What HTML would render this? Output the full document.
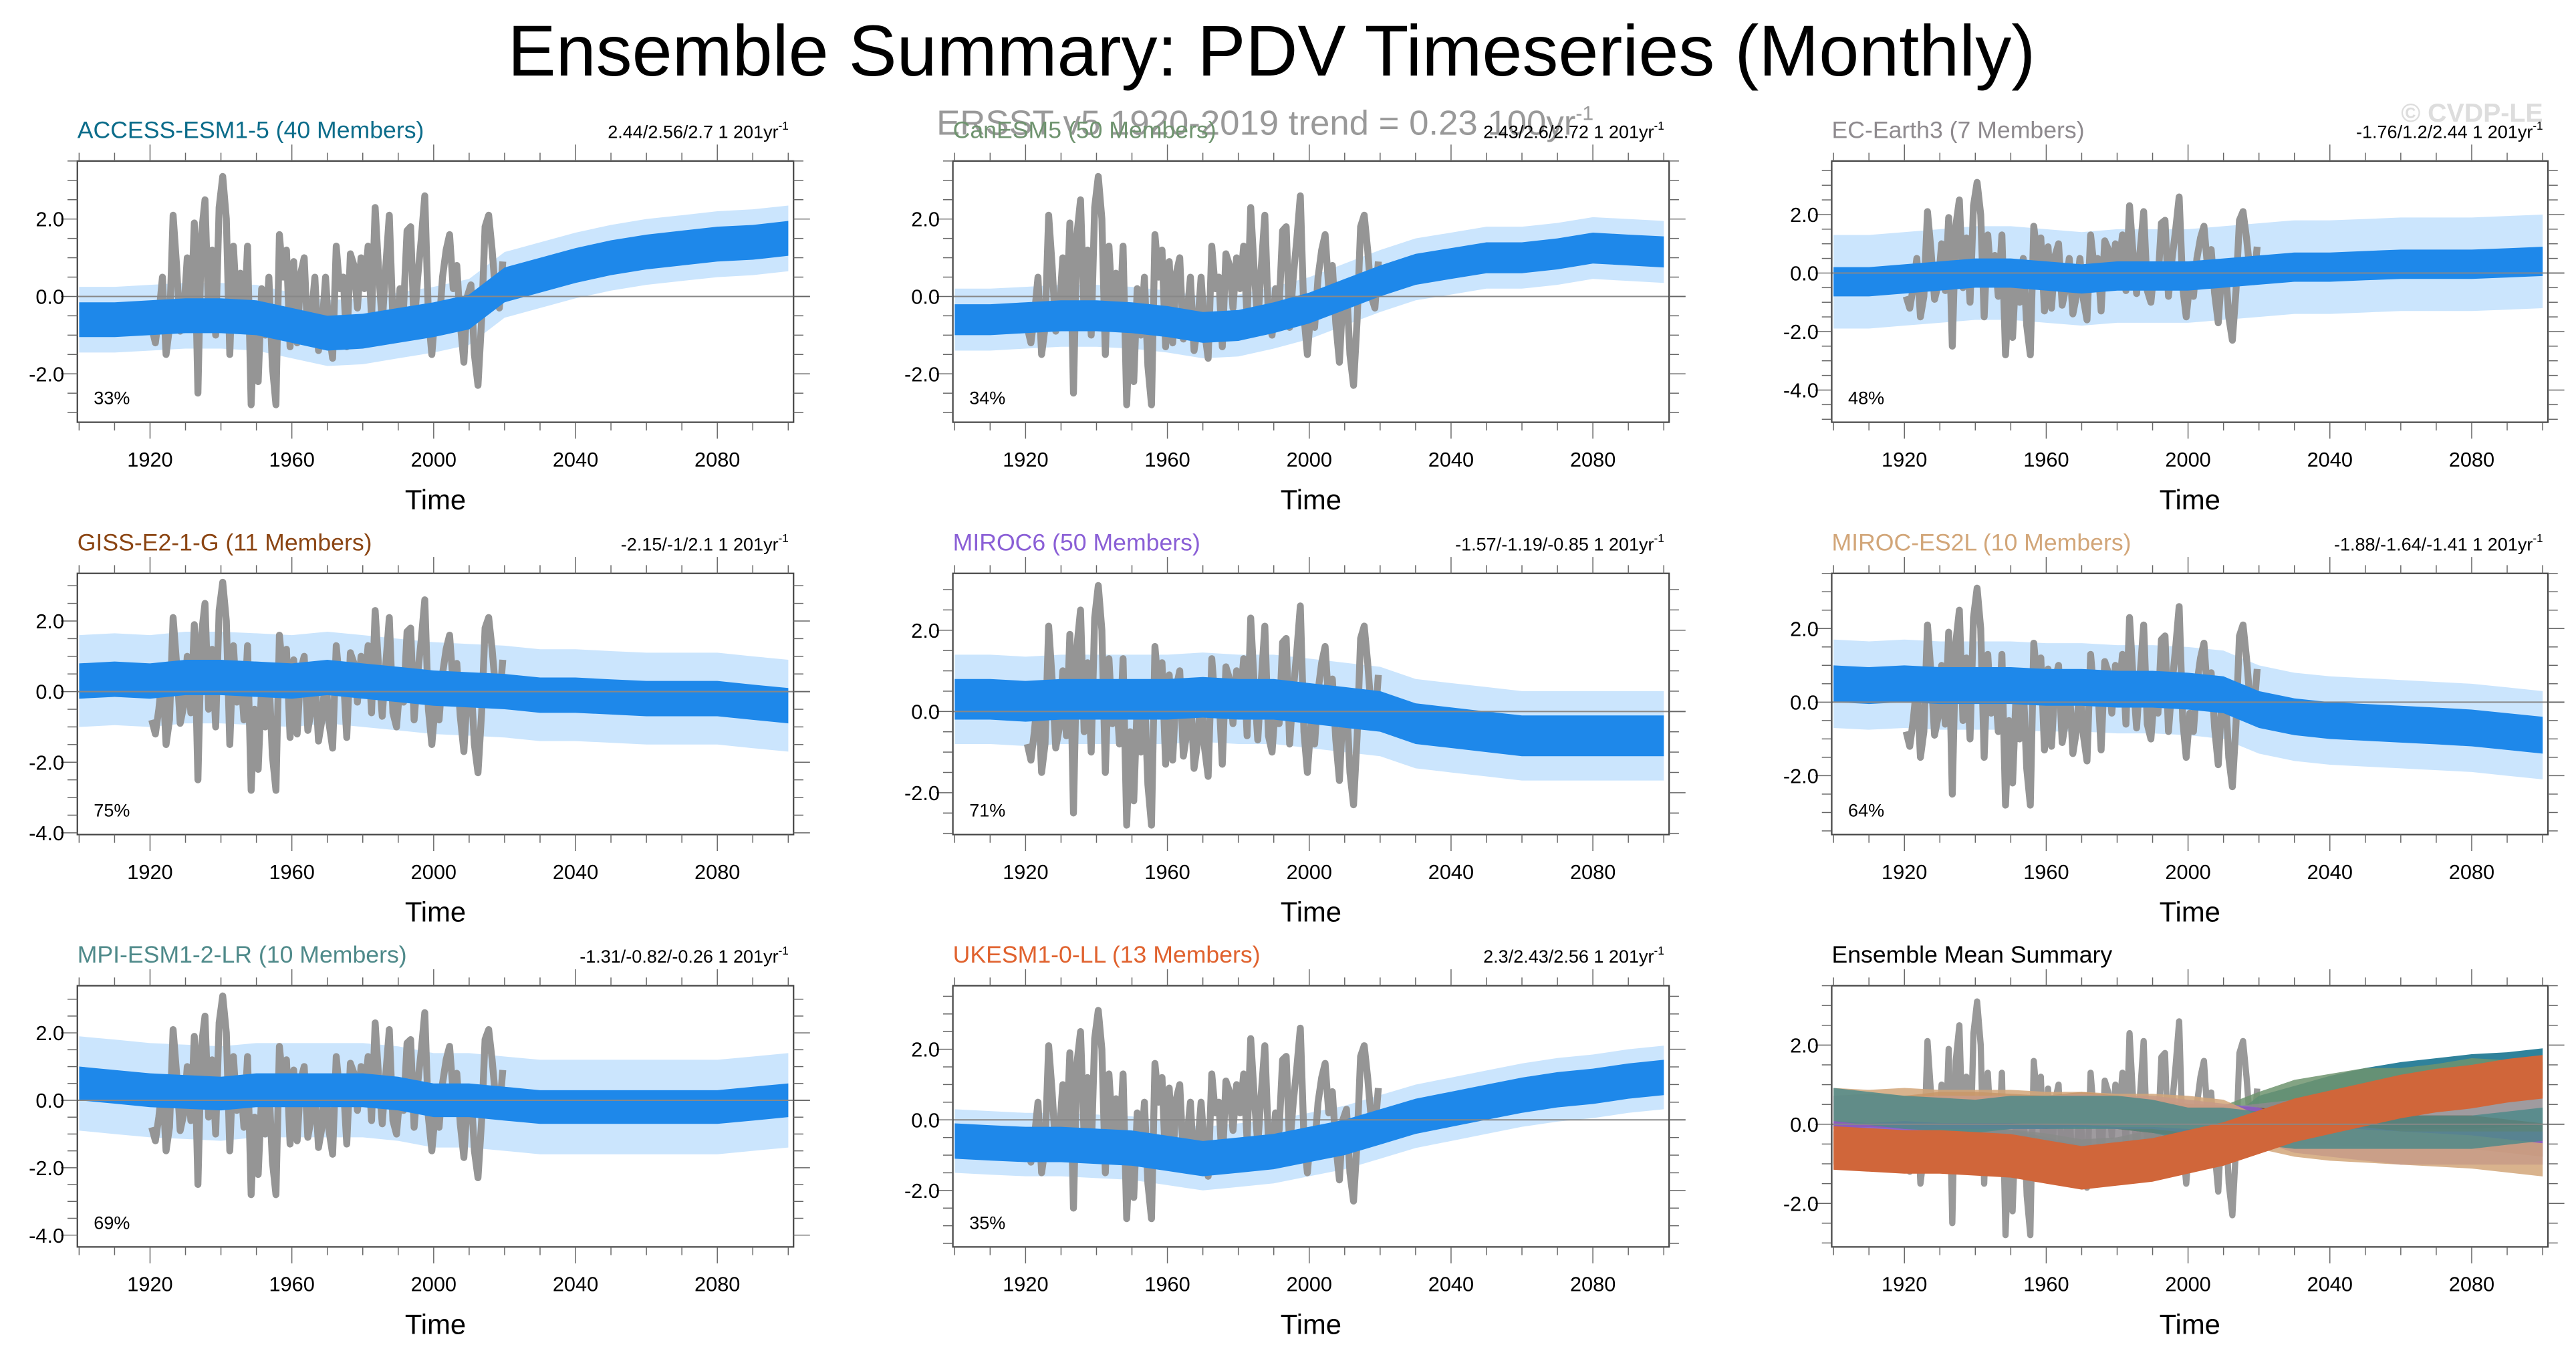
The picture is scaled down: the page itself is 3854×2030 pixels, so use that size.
<!DOCTYPE html>
<html><head><meta charset="utf-8"><title>PDV Timeseries</title>
<style>html,body{margin:0;padding:0;background:#fff;width:3854px;height:2030px;overflow:hidden}svg{display:block}</style>
</head><body>
<svg id="chart" xmlns="http://www.w3.org/2000/svg" width="3854" height="2030" viewBox="0 0 1568 826" font-family="'Liberation Sans', sans-serif">
<text x="774" y="46" text-anchor="middle" font-size="44" textLength="930" lengthAdjust="spacingAndGlyphs">Ensemble Summary: PDV Timeseries (Monthly)</text>
<text x="570" y="82" font-size="21" fill="#999" textLength="400" lengthAdjust="spacingAndGlyphs">ERSST v5 1920-2019 trend = 0.23 100yr<tspan dy="-9" font-size="12">-1</tspan></text>
<text x="1548" y="74" text-anchor="end" font-size="16" fill="#ddd" font-weight="bold">© CVDP-LE</text>
<g id="panels"></g>
</svg>
<script>
// ---- data ----
const years10 = [1900,1910,1920,1930,1940,1950,1960,1970,1980,1990,2000,2010,2020,2030,2040,2050,2060,2070,2080,2090,2100];
const xTicks = [1920,1960,2000,2040,2080];
const obsYears0 = 1920;
const obsValues = [-0.8,-1.2,-0.5,0.5,-1.5,-0.8,2.1,0.8,-0.9,-0.4,1.0,-0.6,1.9,-2.5,1.6,2.5,-0.5,1.2,-1.0,2.3,3.1,2.0,-1.5,1.3,-0.3,0.6,-0.8,1.3,-2.8,-0.5,-2.2,0.2,-1.0,0.5,-1.8,-2.8,1.6,0.5,1.2,-1.3,0.9,-1.2,0.6,1.0,-1.1,-0.5,0.5,-1.4,-0.8,0.5,-0.9,-1.6,1.3,0.2,0.5,-1.3,1.1,0.8,-0.3,1.0,0.2,1.3,-0.6,2.3,0.6,-0.7,0.8,2.1,-0.6,-1.0,0.2,-0.3,1.7,1.8,-0.8,0.5,1.5,2.6,-0.5,-1.5,-0.3,-0.8,0.5,1.2,1.6,0.2,0.8,-0.7,-1.7,0.0,0.3,-1.5,-2.3,-0.6,1.8,2.1,1.2,0.0,-0.3,0.9];
const modelNames = ["ACCESS-ESM1-5 (40 Members)","CanESM5 (50 Members)","EC-Earth3 (7 Members)","GISS-E2-1-G (11 Members)","MIROC6 (50 Members)","MIROC-ES2L (10 Members)","MPI-ESM1-2-LR (10 Members)","UKESM1-0-LL (13 Members)"];
const trendLabels = ["2.44/2.56/2.7 1 201yr","2.43/2.6/2.72 1 201yr","-1.76/1.2/2.44 1 201yr","-2.15/-1/2.1 1 201yr","-1.57/-1.19/-0.85 1 201yr","-1.88/-1.64/-1.41 1 201yr","-1.31/-0.82/-0.26 1 201yr","2.3/2.43/2.56 1 201yr"];
const pctLabels = ["33%","34%","48%","75%","71%","64%","69%","35%"];
const meanAccess = [-0.6,-0.6,-0.55,-0.5,-0.5,-0.55,-0.75,-0.95,-0.9,-0.75,-0.6,-0.4,0.3,0.55,0.8,1.0,1.15,1.25,1.35,1.4,1.5];
const meanCanesm = [-0.6,-0.6,-0.55,-0.5,-0.5,-0.55,-0.65,-0.8,-0.75,-0.55,-0.3,0.05,0.4,0.7,0.85,1.0,1.0,1.1,1.25,1.2,1.15];
const meanEcearth = [-0.3,-0.3,-0.2,-0.1,0.0,0.0,-0.1,-0.2,-0.1,-0.1,-0.1,0.0,0.1,0.2,0.2,0.25,0.3,0.3,0.3,0.35,0.4];
const meanGiss = [0.3,0.35,0.3,0.4,0.4,0.35,0.3,0.4,0.3,0.2,0.1,0.05,0.0,-0.1,-0.1,-0.15,-0.2,-0.2,-0.2,-0.3,-0.4];
const meanMiroc6 = [0.3,0.3,0.25,0.3,0.3,0.3,0.3,0.35,0.3,0.3,0.2,0.1,0.0,-0.3,-0.4,-0.5,-0.6,-0.6,-0.6,-0.6,-0.6];
const meanMirocEs2l = [0.5,0.45,0.5,0.45,0.45,0.45,0.4,0.4,0.35,0.35,0.3,0.2,-0.2,-0.4,-0.5,-0.55,-0.6,-0.65,-0.7,-0.8,-0.9];
const meanMpi = [0.5,0.4,0.3,0.25,0.2,0.3,0.3,0.3,0.3,0.2,0.0,0.0,-0.1,-0.2,-0.2,-0.2,-0.2,-0.2,-0.2,-0.1,0.0];
const meanUkesm = [-0.6,-0.65,-0.7,-0.7,-0.75,-0.8,-0.95,-1.1,-1.0,-0.9,-0.7,-0.5,-0.2,0.1,0.3,0.5,0.7,0.85,0.95,1.1,1.2];
const bandHalf = [0.45,0.4,0.5,0.5,0.5,0.5,0.5,0.5];
const spreadHalf = [0.85,0.8,1.6,1.3,1.1,1.2,1.4,0.9];
const yMin = [-3.25,-3.25,-5.1,-4.05,-3.03,-3.6,-4.35,-3.6,-3.1];
const yMax = [3.5,3.5,3.83,3.35,3.4,3.5,3.4,3.8,3.5];
const yTickVals = [[-2,0,2],[-2,0,2],[-4,-2,0,2],[-4,-2,0,2],[-2,0,2],[-2,0,2],[-4,-2,0,2],[-2,0,2],[-2,0,2]];
const titleColors = ["#0b6c8a","#6f946f","#8e8a8e","#8b4513","#8a5fd6","#d2a679","#4f8a8a","#e0622e"];
const summaryColors = ["#0b6c8a","#6f946f","#8e8a8e","#8b4513","#8a5fd6","#d2a679","#4f8a8a","#d0663a"];
const allMeans = [meanAccess,meanCanesm,meanEcearth,meanGiss,meanMiroc6,meanMirocEs2l,meanMpi,meanUkesm];

// ---- layout ----
const NS = "http://www.w3.org/2000/svg";
const colX = [47,580,1115], boxW = 436, rowY = [98,349,600], boxH = 159;
const X0 = 1899.5, X1 = 2101.5;
const root = document.getElementById('panels');
function mk(tag, attrs, parent){const e=document.createElementNS(NS,tag);for(const k in attrs)e.setAttribute(k,attrs[k]);parent.appendChild(e);return e;}

function drawPanel(i){
  const bx = colX[i%3], by = rowY[Math.floor(i/3)];
  const g = mk('g',{},root);
  
  
  const sx = y => bx + (y - X0) / (X1 - X0) * boxW;
  const sy = v => by + (yMax[i] - v) / (yMax[i] - yMin[i]) * boxH;
  const clipId = 'clip'+i;
  const cp = mk('clipPath',{id:clipId},g); mk('rect',{x:bx,y:by,width:boxW,height:boxH},cp);
  const plot = mk('g',{'clip-path':'url(#'+clipId+')'},g);
  
  
  function bandPath(mean, half){
    let up='', dn='';
    years10.forEach((yr,k)=>{up += (k?'L':'M')+sx(yr).toFixed(1)+','+sy(mean[k]+half).toFixed(1);});
    for(let k=years10.length-1;k>=0;k--){dn += 'L'+sx(years10[k]).toFixed(1)+','+sy(mean[k]-half).toFixed(1);}
    return up+dn+'Z';
  }
  function obsPath(){
    return obsValues.map((v,k)=>(k?'L':'M')+sx(obsYears0+k+0.5).toFixed(1)+','+sy(v).toFixed(1)).join('');
  }
  if(i<8){
    const sp = mk('path',{d:bandPath(allMeans[i],spreadHalf[i]),fill:'#a9d4fb',opacity:'0.6'},plot);
    
    
    const ob = mk('path',{d:obsPath(),fill:'none',stroke:'#959595','stroke-width':4.2,'stroke-linejoin':'round'},plot);
    
    
    const bd = mk('path',{d:bandPath(allMeans[i],bandHalf[i]),fill:'#1e88ea'},plot);
    
    
  } else {
    const ob = mk('path',{d:obsPath(),fill:'none',stroke:'#999','stroke-width':3.8,'stroke-linejoin':'round'},plot);
    
    
    for(let m=0;m<8;m++){
      const h = m===7 ? 0.55 : 0.42;
      const p = mk('path',{d:bandPath(allMeans[m],h),fill:summaryColors[m],opacity:m===7?1:0.85},plot);
      
      
    }
  }
  // zero line
  const zl = mk('line',{x1:bx,x2:bx+boxW+10,y1:sy(0),y2:sy(0),stroke:'#888','stroke-width':0.8},g);
  
  
  // frame
  const fr = mk('rect',{x:bx,y:by,width:boxW,height:boxH,fill:'none',stroke:'#444','stroke-width':0.9},g);
  
  
  // x ticks
  const tg = mk('g',{stroke:'#666','stroke-width':0.6},g);
  for(let yr=1900; yr<=2100; yr+=10){
    const maj = xTicks.includes(yr); const L = maj?10:5; const x=sx(yr);
    mk('line',{x1:x,x2:x,y1:by,y2:by-L},tg); mk('line',{x1:x,x2:x,y1:by+boxH,y2:by+boxH+L},tg);
  }
  xTicks.forEach(yr=>{
    const t = mk('text',{x:sx(yr),y:by+boxH+27,'text-anchor':'middle','font-size':12.5},g);
    t.textContent = yr;
    
    
  });
  // y ticks
  for(let v=Math.ceil(yMin[i]*2)/2; v<=yMax[i]; v+=0.5){
    const maj = Math.abs(v%2)<1e-6; const L = maj?10:6; const y=sy(v);
    mk('line',{x1:bx,x2:bx-L,y1:y,y2:y},tg); mk('line',{x1:bx+boxW,x2:bx+boxW+L,y1:y,y2:y},tg);
  }
  yTickVals[i].forEach(v=>{
    const t = mk('text',{x:bx-8,y:sy(v)+4.5,'text-anchor':'end','font-size':12.5},g);
    t.textContent = v.toFixed(1);
    
    
  });
  const xt = mk('text',{x:bx+boxW/2,y:by+boxH+53,'text-anchor':'middle','font-size':17},g);
  xt.textContent = 'Time';
  
  
  // titles
  const tt = mk('text',{x:bx,y:by-14,'font-size':14.5,fill:i<8?titleColors[i]:'#000'},g);
  tt.textContent = i<8 ? modelNames[i] : 'Ensemble Mean Summary';
  
  
  if(i<8){
    const tr = mk('text',{x:bx+boxW-3,y:by-14,'text-anchor':'end','font-size':11},g);
    tr.textContent = trendLabels[i];
    const sup = mk('tspan',{dy:-5,'font-size':7},tr); sup.textContent='-1';
    
    
    const pc = mk('text',{x:bx+10,y:by+boxH-11,'font-size':11},g);
    pc.textContent = pctLabels[i];
    
    
  }
}
for(let i=0;i<9;i++) drawPanel(i);
</script>
</body></html>
